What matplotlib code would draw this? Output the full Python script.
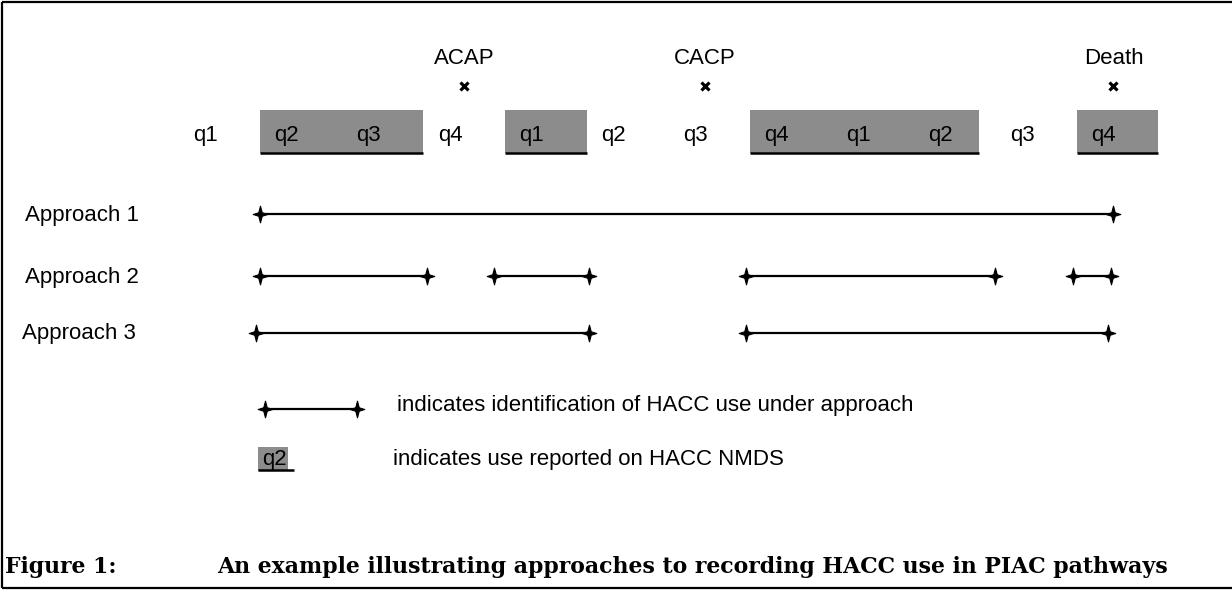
import matplotlib
matplotlib.use("Agg")
import matplotlib.pyplot as plt
from matplotlib.path import Path
from matplotlib.patches import Rectangle

# ---------------- data (quarter units; quarter cell i spans [i, i+1]) ----------------
quarter_labels = ["q1", "q2", "q3", "q4", "q1", "q2", "q3", "q4", "q1", "q2", "q3", "q4"]
reported_spans = [(1.0, 3.0), (4.0, 5.0), (7.0, 9.8), (11.0, 12.0)]   # HACC NMDS reported use
event_names = ["ACAP", "CACP", "Death"]
event_pos = [3.5, 6.45, 11.45]
approach_names = ["Approach 1", "Approach 2", "Approach 3"]
approach_segments = [
    [(1.0, 11.45)],
    [(1.0, 3.05), (3.87, 5.03), (6.95, 10.0), (10.95, 11.42)],
    [(0.95, 5.03), (6.95, 11.38)],
]

# ---------------- layout ----------------
W, H = 1232, 590
X0, QW = 178.0, 81.7          # pixel of quarter 0 start, quarter width (px)
def u(px):
    return (px - X0) / QW

GRAY = "#8c8c8c"
SANS = "Liberation Sans"
FS = 16

fig = plt.figure(figsize=(W / 100, H / 100), dpi=100)
ax = fig.add_axes([0, 0, 1, 1])
ax.set_xlim(u(0), u(W))
ax.set_ylim(H, 0)
ax.axis("off")

# 4-point star marker
r = 0.24
star = Path([(0, 1.15), (r, r), (1, 0), (r, -r), (0, -1.15), (-r, -r), (-1, 0), (-r, r), (0, 1.15)],
            [Path.MOVETO] + [Path.LINETO] * 7 + [Path.CLOSEPOLY])
MS = 12

# frame (top, left, bottom)
ax.plot([u(2), u(W)], [2, 2], color="black", lw=1.6, solid_capstyle="butt")
ax.plot([u(2), u(2)], [2, 588], color="black", lw=1.6, solid_capstyle="butt")
ax.plot([u(2), u(W)], [588, 588], color="black", lw=1.6, solid_capstyle="butt")

# events
for name, x in zip(event_names, event_pos):
    ax.text(x, 58, name, ha="center", va="center", fontsize=FS, family=SANS)
    ax.plot([x], [86], marker="x", ms=5.5, mew=2.3, color="black")

# reported-use boxes
BOX_TOP, BOX_BOT = 110, 153
for a, b in reported_spans:
    ax.add_patch(Rectangle((a, BOX_TOP), b - a, BOX_BOT - BOX_TOP, facecolor=GRAY, edgecolor="none"))
    ax.plot([a, b], [BOX_BOT, BOX_BOT], color="black", lw=1.8, solid_capstyle="butt")

# quarter labels
for i, q in enumerate(quarter_labels):
    ax.text(i + 0.18, 136, q, ha="left", va="center", fontsize=FS, family=SANS)

# approaches
rows = [214, 276, 333]
label_x = [25, 25, 22]
for name, y, lx, segs in zip(approach_names, rows, label_x, approach_segments):
    ax.text(u(lx), y + 1, name, ha="left", va="center", fontsize=FS, family=SANS)
    for a, b in segs:
        ax.plot([a, b], [y, y], color="black", lw=1.6, marker=star, ms=MS,
                mfc="black", mec="black", mew=0.8)

# legend
ax.plot([u(265), u(357)], [409, 409], color="black", lw=1.6, marker=star, ms=MS,
        mfc="black", mec="black", mew=0.8)
ax.text(u(397), 406, "indicates identification of HACC use under approach",
        ha="left", va="center", fontsize=FS, family=SANS)
ax.add_patch(Rectangle((u(258), 447), u(288) - u(258), 24, facecolor=GRAY, edgecolor="none"))
ax.plot([u(258), u(294)], [470, 470], color="black", lw=1.8, solid_capstyle="butt")
ax.text(u(262), 460, "q2", ha="left", va="center", fontsize=FS, family=SANS)
ax.text(u(393), 460, "indicates use reported on HACC NMDS",
        ha="left", va="center", fontsize=FS, family=SANS)

# caption
CAP_FS = 15.8
ax.text(u(5), 567, "Figure 1:", ha="left", va="center", fontsize=CAP_FS,
        family="DejaVu Serif", fontweight="bold")
ax.text(u(217), 567, "An example illustrating approaches to recording HACC use in PIAC pathways",
        ha="left", va="center", fontsize=CAP_FS, family="DejaVu Serif", fontweight="bold")

fig.savefig("out.png", dpi=100)
